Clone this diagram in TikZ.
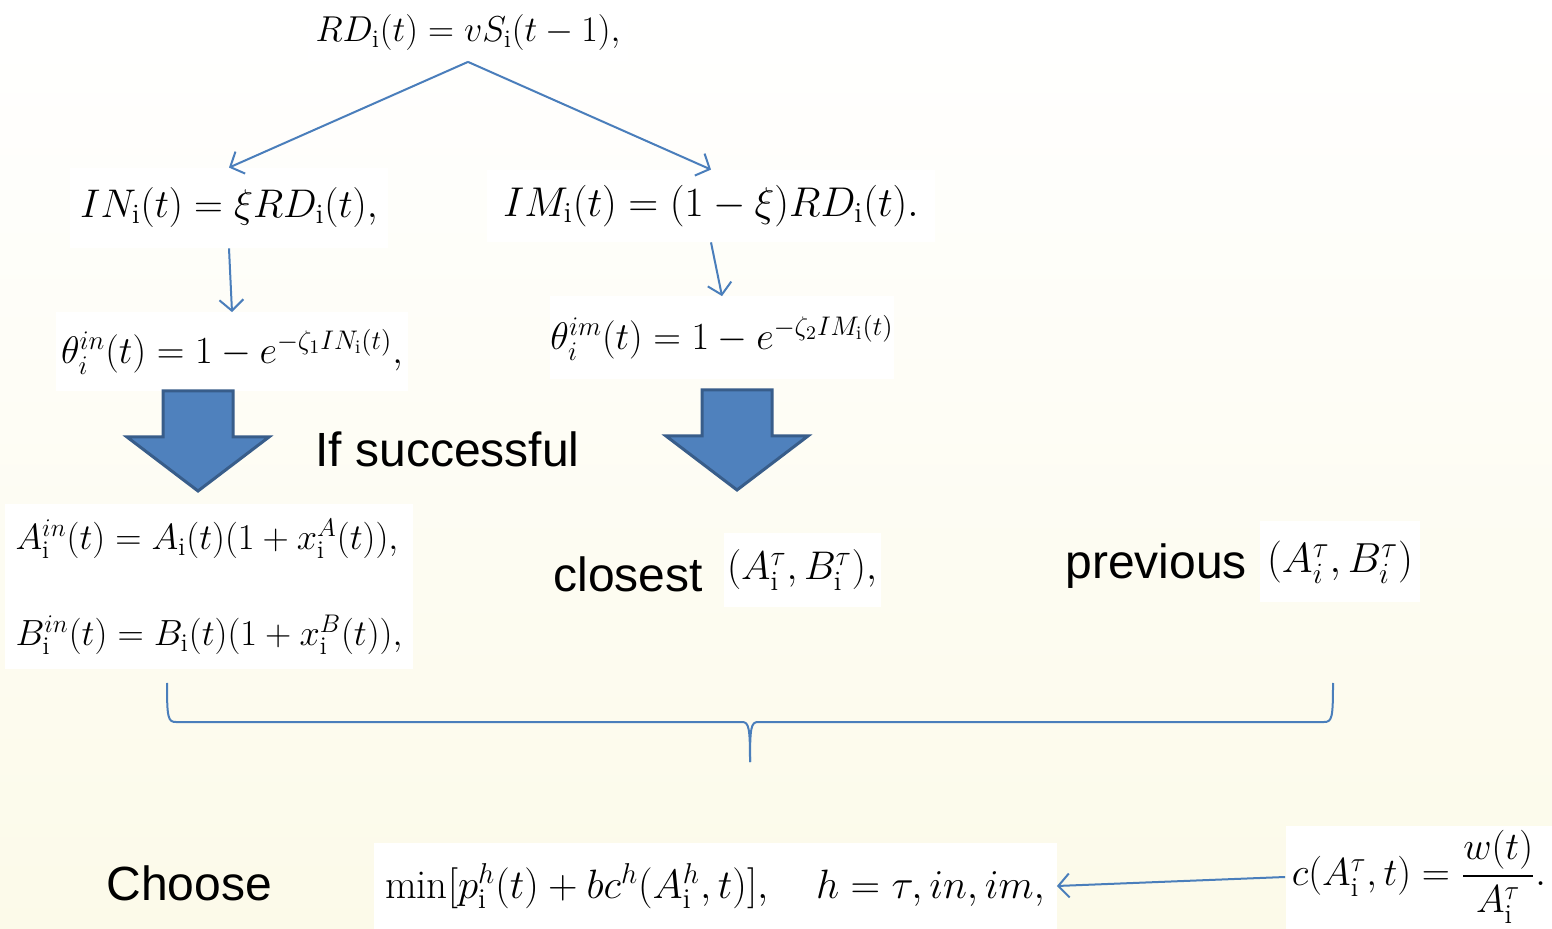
\RequirePackage{fix-cm}
\documentclass[tikz,border=0pt]{standalone}
\usepackage{amsmath}
\usepackage{fontspec}
\usetikzlibrary{arrows.meta}

\newfontfamily\arialfont{Liberation Sans}
\newcommand{\ii}{\mathrm{i}}

\definecolor{bgcream}{RGB}{252,250,233}
\definecolor{lineblue}{RGB}{74,126,187}
\definecolor{arrowfill}{RGB}{79,129,189}
\definecolor{arrowedge}{RGB}{56,93,138}

\tikzset{
  eqbox/.style={fill=white, inner sep=0pt, align=center},
  link/.style={lineblue, line width=1pt, -{Straight Barb[length=5.5pt, width=12pt]}},
  plaintext/.style={font=\arialfont\fontsize{24}{28}\selectfont, inner sep=0pt, anchor=base west},
}

\begin{document}
\begin{tikzpicture}[x=0.5pt, y=-0.5pt]

  % ============================================================
  % Background (white at the top, cream at the bottom)
  % ============================================================
  \shade[top color=white, bottom color=bgcream] (0,0) rectangle (1552,929);
  \useasboundingbox (0,0) rectangle (1552,929);

  % ============================================================
  % Demand split
  % ============================================================
  \node[eqbox, minimum width=160pt, minimum height=28.5pt,
        font=\fontsize{18}{21}\selectfont] (rd) at (468,33)
        {$RD_\ii(t)=vS_\ii(t-1),$};

  \node[eqbox, minimum width=159pt, minimum height=40pt,
        font=\fontsize{20}{24}\selectfont] (in) at (229,208)
        {$IN_\ii(t)=\xi RD_\ii(t),$};
  \node[eqbox, minimum width=224pt, minimum height=36pt,
        font=\fontsize{20.8}{25}\selectfont] (im) at (711,206)
        {$IM_\ii(t)=(1-\xi)RD_\ii(t).$};

  % success probabilities
  \node[eqbox, minimum width=176pt, minimum height=39.5pt,
        font=\fontsize{19.2}{23}\selectfont] (thin) at (232,352)
        {$\theta_i^{in}(t)=1-e^{-\zeta_1 IN_\ii(t)},$};
  \node[eqbox, minimum width=171pt, minimum height=41.5pt,
        font=\fontsize{19.2}{23}\selectfont] (thim) at (722,338)
        {$\theta_i^{im}(t)=1-e^{-\zeta_2 IM_\ii(t)}$};

  \draw[link] (rd.south) -- (in.north);
  \draw[link] (rd.south) -- (im.north);
  \draw[link] (in.south) -- (thin.north);
  \draw[link] (im.south) -- (thim.north);

  % ============================================================
  % Block arrows: tail centre x / top y
  % ============================================================
  \foreach \cx/\ty in {198/391, 737/390}{
    \draw[arrowedge, fill=arrowfill, line width=1.5pt, line join=miter]
      (\cx-35,\ty) -- (\cx+35,\ty) -- (\cx+35,\ty+46) -- (\cx+71,\ty+46)
      -- (\cx,\ty+100) -- (\cx-71,\ty+46) -- (\cx-35,\ty+46) -- cycle;
  }
  \node[plaintext] (succ) at (315,467) {If successful};

  % ============================================================
  % Candidate (A, B) pairs
  % ============================================================
  \node[eqbox, align=left, minimum width=204pt, minimum height=82.5pt,
        font=\fontsize{18.2}{21}\selectfont] (ab) at (209,587)
        {$A_\ii^{in}(t)=A_\ii(t)(1+x_\ii^A(t)),$\\[27pt]
         $B_\ii^{in}(t)=B_\ii(t)(1+x_\ii^B(t)),$};

  \node[plaintext] (closest) at (553,592) {closest};
  \node[eqbox, minimum width=78.5pt, minimum height=37pt,
        font=\fontsize{20}{24}\selectfont] (cl) at (802,570)
        {$(A_\ii^\tau,B_\ii^\tau),$};

  \node[plaintext] (prev) at (1065,579) {previous};
  \node[eqbox, minimum width=80pt, minimum height=40.5pt,
        font=\fontsize{21}{25}\selectfont] (pv) at (1340,562)
        {$(A_i^\tau,B_i^\tau)$};

  % brace gathering the three pairs
  \draw[lineblue, line width=1pt]
    (167,683) .. controls (167,718) and (168,722) .. (176,722) -- (742,722)
    .. controls (749,722) and (750,728) .. (750,762);
  \draw[lineblue, line width=1pt]
    (750,762) .. controls (750,728) and (751,722) .. (758,722) -- (1324,722)
    .. controls (1332,722) and (1333,718) .. (1333,683);

  % ============================================================
  % Choice rule
  % ============================================================
  \node[plaintext] (choose) at (106,900) {Choose};
  \node[eqbox, minimum width=341.5pt, minimum height=43pt,
        font=\fontsize{20.5}{24}\selectfont] (min) at (715,886)
        {$\min[p_\ii^h(t)+bc^h(A_\ii^h,t)],\quad h=\tau,in,im,$};
  \node[eqbox, minimum width=133.5pt, minimum height=51.5pt,
        font=\fontsize{19.5}{23}\selectfont] (cost) at (1419,877)
        {$c(A_\ii^\tau,t)=\dfrac{w(t)}{A_\ii^\tau}.$};

  \draw[link] (cost.west) -- (min.east);

\end{tikzpicture}
\end{document}
